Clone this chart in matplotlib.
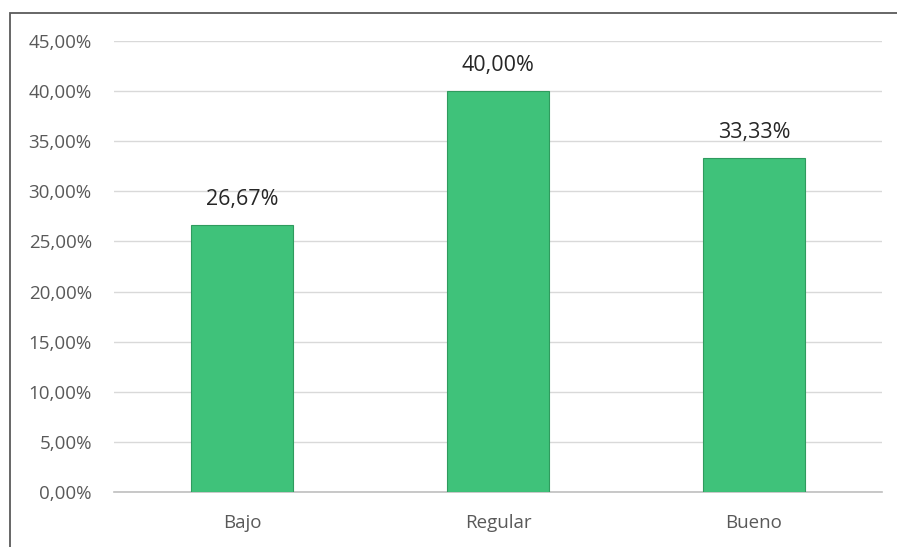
import matplotlib.pyplot as plt
from matplotlib.patches import Rectangle

categorias = ["Bajo", "Regular", "Bueno"]
porcentajes = [26.67, 40.00, 33.33]
ticks_y = [0, 5, 10, 15, 20, 25, 30, 35, 40, 45]

plt.rcParams['font.family'] = ['Open Sans', 'DejaVu Sans']

fig = plt.figure(figsize=(8.97, 5.47), dpi=100)
ax = fig.add_axes([0.1271, 0.1005, 0.8562, 0.8245])

x = range(len(categorias))
ax.bar(x, porcentajes, width=0.40, color="#3fc27a", edgecolor="#2f9b5e", linewidth=0.8, zorder=3)

for xi, v in zip(x, porcentajes):
    ax.text(xi, v + 1.5, f"{v:.2f}%".replace(".", ","), ha="center", va="bottom",
            fontsize=15.5, color="#262626")

ax.set_xlim(-0.5, len(categorias) - 0.5)
ax.set_ylim(0, 45)
ax.set_yticks(ticks_y)
ax.set_yticklabels([f"{t:.2f}%".replace(".", ",") for t in ticks_y])
ax.set_xticks(list(x))
ax.set_xticklabels(categorias)
ax.tick_params(axis="y", length=0, pad=16, labelsize=13.5, labelcolor="#595959")
ax.tick_params(axis="x", length=0, pad=16, labelsize=13.5, labelcolor="#595959")

ax.grid(axis="y", color="#d9d9d9", linewidth=1.0, zorder=0)
for s in ["top", "right", "left"]:
    ax.spines[s].set_visible(False)
ax.spines["bottom"].set_color("#bfbfbf")
ax.spines["bottom"].set_linewidth(1.2)

# marco del gráfico
fig.patches.append(Rectangle((9.5 / 897, -0.01), 1.0, 1 - 12.5 / 547 + 0.01,
                             transform=fig.transFigure, fill=False,
                             edgecolor="#5a5a5a", linewidth=1.3))

fig.savefig("out.png", dpi=100)
